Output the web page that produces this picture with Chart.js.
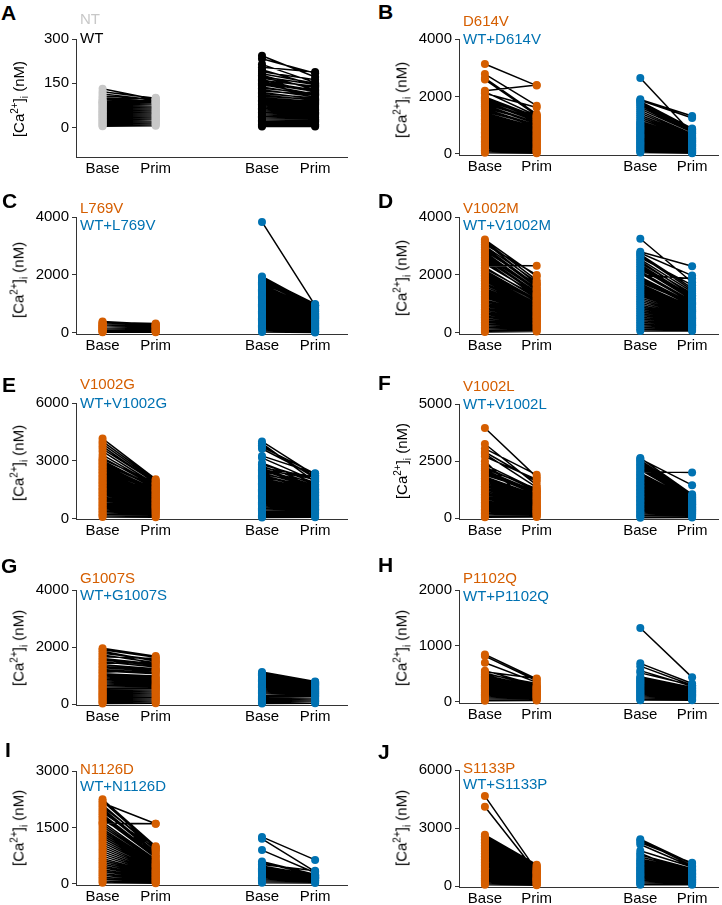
<!DOCTYPE html>
<html><head><meta charset="utf-8">
<script src="https://cdn.jsdelivr.net/npm/chart.js@4.4.0/dist/chart.umd.min.js"></script>
<style>
body{margin:0;background:#fff;width:722px;height:905px;position:relative;overflow:hidden;font-family:"Liberation Sans",Arial,sans-serif;}
canvas.c{position:absolute;}
.letter{position:absolute;font-weight:bold;font-size:21px;line-height:1;color:#000;}
.lg{position:absolute;font-size:15px;line-height:1;white-space:nowrap;}
.yt{position:absolute;font-size:15px;white-space:nowrap;transform:translate(-50%,-50%) rotate(-90deg);line-height:1;color:#000;}
.yt sup,.yt sub{font-size:10px;line-height:0;}
</style></head><body>
<script>
// ---------- data (nM) ----------
const xLabels = ['Base','Prim','Base','Prim'];

const aNtBase = [131,121,114,107,101,96,90,88,86,83,80,77,74,71,68,64,61,58,55,52,49,45,42,39,36,33,29,26,23,20,17,13,10,7,4];
const aNtPrim = [95,99,93,96,89,101,94,87,85,86,82,79,76,73,70,66,63,60,57,54,51,47,44,41,38,35,31,28,25,22,19,15,12,9,6];
const aWtBase = [243,233,214,204,196,189,182,177,172,168,163,159,155,150,146,142,137,133,128,124,119,115,110,106,101,97,92,88,83,79,74,70,65,61,56,52,47,43,38,34,29,25,20,16,11,7,3];
const aWtPrim = [171,184,152,188,143,162,150,129,146,136,119,140,126,122,113,131,109,116,104,111,97,100,92,95,88,85,81,78,74,70,67,63,59,56,52,48,44,40,36,32,28,24,20,16,11,7,3];

const bMutBase = [3130,2780,2640,2590,2200,2160,2110,1980,1950,1910,1870,1830,1790,1740,1700,1660,1610,1570,1520,1480,1430,1390,1340,1300,1250,1210,1160,1120,1070,1030,980,940,890,850,800,760,710,670,620,580,530,490,440,400,350,310,260,220,170,130,80,40];
const bMutPrim = [2380,1680,1390,1340,2400,1330,1620,1300,1260,1220,1280,1180,1140,1200,1090,1050,1110,1000,960,1010,920,890,860,830,800,770,740,710,680,650,620,590,560,530,500,470,440,410,380,350,320,290,260,230,200,175,150,125,100,75,50,25];
const bWtBase = [2640,1900,1870,1830,1790,1740,1690,1630,1560,1490,1420,1350,1280,1210,1140,1090,1050,1010,970,930,890,850,810,770,730,690,650,610,570,530,490,450,410,370,330,290,250,210,170,130,90,50];
const bWtPrim = [720,1320,1250,890,860,840,820,790,760,700,670,640,610,580,550,520,500,480,460,440,420,400,380,360,340,320,300,280,260,240,220,200,180,160,140,120,100,85,70,55,40,25];

const cMutBase = [400,370,340,310,290,265,245,225,205,185,165,145,125,105,85,65,45,25];
const cMutPrim = [300,330,260,290,250,235,220,205,185,170,150,132,115,97,78,60,42,24];
const cWtBase = [3830,1950,1910,1870,1830,1790,1750,1710,1670,1630,1590,1550,1510,1470,1430,1390,1350,1310,1270,1230,1190,1150,1110,1070,1030,990,950,910,870,830,790,750,710,670,630,590,550,510,470,430,390,350,310,270,230,190,150,110,70,30];
const cWtPrim = [950,960,1000,930,970,900,870,940,840,810,790,770,750,730,700,680,660,640,620,600,580,560,540,520,500,480,460,440,420,400,380,360,340,320,300,280,260,240,220,200,180,160,140,120,100,80,60,45,30,15];

const dMutBase = [3220,3170,3120,3060,3000,2950,2890,2830,2780,2720,2660,2610,2550,2500,2440,2380,2330,2270,2220,2160,2100,2050,1990,1940,1880,1820,1770,1710,1660,1600,1540,1490,1430,1380,1320,1260,1210,1150,1100,1040,980,930,870,820,760,700,650,590,540,480,420,370,310,250,190,140,80,30];
const dMutPrim = [1950,1820,1700,2000,1760,1640,1580,1680,1520,1460,1490,1400,1360,1240,1300,1340,2320,1200,1260,1150,1120,1080,1100,1030,990,1010,950,920,890,860,830,800,780,750,720,690,660,640,610,580,550,530,500,470,440,420,390,360,340,310,280,250,220,190,160,130,90,50];
const dWtBase = [3250,2800,2760,2710,2660,2600,2540,2480,2420,2360,2300,2240,2180,2120,2060,1990,1930,1870,1810,1750,1690,1630,1570,1510,1450,1390,1330,1270,1210,1150,1090,1030,970,910,850,790,730,670,610,550,490,430,370,310,250,190,130,70];
const dWtPrim = [1750,2300,1980,1550,1480,1650,1420,1300,1360,1250,1200,1150,1280,1100,1060,1880,1020,980,940,1000,900,870,840,810,780,750,720,690,660,630,600,570,540,510,480,450,420,390,360,330,300,270,240,210,180,150,110,70];

const eMutBase = [4150,4000,3880,3750,3620,3480,3300,3160,3080,3000,2930,2850,2780,2700,2620,2550,2470,2400,2320,2250,2170,2100,2020,1950,1870,1800,1720,1650,1570,1500,1420,1350,1270,1200,1120,1050,970,900,820,750,670,600,520,450,370,300,220,150,70];
const eMutPrim = [2040,1980,1900,1820,1860,1750,1700,1660,1800,1600,1560,1620,1500,1460,1420,1380,1440,1340,1300,1260,1220,1180,1150,1110,1080,1040,1000,970,930,900,860,830,790,760,720,690,650,620,580,550,510,470,420,370,320,260,200,130,60];
const eWtBase = [4000,3900,3800,3720,3620,3250,3150,2880,2800,2720,2640,2580,2540,2490,2430,2370,2310,2250,2190,2130,2070,2010,1950,1890,1830,1770,1700,1640,1580,1520,1460,1400,1340,1270,1210,1150,1090,1030,960,900,840,780,720,650,590,530,470,410,350,290,230,170,110,50];
const eWtPrim = [2250,1900,2100,2320,2200,2350,1950,1850,2000,1780,2150,1700,2050,1650,1900,1600,1750,1560,1520,1680,1480,1440,1400,1360,1320,1280,1240,1200,1160,1120,1080,1040,1000,960,920,880,840,800,760,720,680,640,600,560,520,480,440,400,350,300,250,190,130,60];

const fMutBase = [3950,3250,3050,2900,2820,2700,2500,2350,2250,2170,2100,2030,1960,1890,1820,1750,1680,1610,1540,1470,1400,1330,1260,1190,1120,1050,980,910,840,770,700,640,580,520,460,400,340,280,220,160,100,50];
const fMutPrim = [1800,1450,1900,1600,1350,1700,300,1250,1200,1300,1150,1100,1050,1180,1000,960,920,880,840,800,760,720,680,640,600,560,530,500,470,440,410,380,350,320,290,260,230,200,170,140,100,60];
const fWtBase = [2640,2600,2540,2480,2420,2360,2300,2240,2180,2120,2050,1990,1930,1870,1810,1750,1690,1630,1570,1510,1450,1390,1330,1270,1210,1150,1090,1030,970,910,850,790,730,670,610,550,490,430,370,310,250,190,130,80,30];
const fWtPrim = [1050,1450,1000,980,950,920,900,870,850,820,2000,800,780,760,740,720,700,680,660,640,620,600,580,560,540,520,500,480,460,440,420,400,380,360,340,320,300,280,250,220,190,160,120,80,40];

const gMutBase = [1960,1900,1850,1780,1720,1660,1600,1540,1480,1430,1380,1320,1270,1210,1160,1110,1060,1010,960,910,860,820,780,740,700,660,620,580,540,500,460,420,380,340,300,260,220,180,140,100,60,20];
const gMutPrim = [1680,1640,1500,1560,1450,1600,1400,1350,1300,1480,1240,1200,1150,1100,1060,1180,980,940,900,860,820,780,740,700,670,640,610,580,550,520,480,440,400,360,320,280,240,200,160,120,80,30];
const gWtBase = [1120,1080,1040,1010,980,950,920,890,860,830,800,770,740,710,680,650,620,590,560,530,500,470,440,410,380,350,320,290,260,230,200,170,140,110,80,50,20];
const gWtPrim = [790,770,740,760,720,700,710,690,670,650,630,610,590,570,550,530,510,490,470,450,430,410,390,370,350,330,310,290,270,250,220,190,160,130,100,70,30];

const hMutBase = [850,820,700,560,540,520,500,480,460,440,420,400,380,360,340,320,300,280,260,240,220,200,180,160,140,120,100,80,60,40,20];
const hMutPrim = [410,380,350,300,420,280,330,270,260,250,240,230,220,210,200,190,180,170,160,150,140,130,120,110,100,90,80,70,55,40,25];
const hWtBase = [1320,690,640,560,520,450,430,410,390,370,350,330,310,290,270,250,230,210,190,170,150,130,110,90,70,50,30];
const hWtPrim = [440,330,300,280,300,260,250,240,230,220,210,200,190,180,170,160,150,140,130,120,110,100,90,75,60,45,30];

const iMutBase = [2250,2200,2150,2100,2050,2000,1950,1900,1850,1800,1750,1700,1640,1620,1580,1520,1460,1400,1340,1280,1220,1160,1100,1040,980,920,860,800,740,680,630,580,530,480,430,380,330,280,230,180,130,80,30];
const iMutPrim = [1000,950,1600,900,980,850,800,940,760,720,700,880,650,1600,620,600,560,540,520,500,470,450,430,400,380,360,340,320,300,280,260,240,220,200,180,160,140,120,100,80,60,40,20];
const iWtBase = [1250,1200,900,600,560,520,480,450,420,390,360,330,300,270,240,210,180,150,120,90,60,30];
const iWtPrim = [640,330,300,250,240,350,230,220,210,200,190,180,170,160,150,140,130,115,100,80,50,25];

const jMutBase = [4650,4100,2650,2580,2500,2420,2340,2260,2180,2100,2020,1940,1860,1780,1700,1620,1540,1460,1380,1300,1220,1140,1060,980,900,830,760,690,620,550,480,420,360,300,240,180,120,60];
const jMutPrim = [800,700,1100,1050,1000,960,920,880,840,800,770,740,710,680,650,620,590,560,530,500,470,440,420,400,380,360,340,320,300,280,260,230,200,170,140,110,80,40];
const jWtBase = [2420,2360,2250,2150,1820,1700,1600,1500,1400,1320,1250,1180,1110,1040,970,900,840,780,720,660,600,540,480,420,360,300,240,180,120,60];
const jWtPrim = [1150,1050,1200,1000,980,600,900,860,820,780,740,700,660,620,580,540,500,470,440,410,380,350,320,290,260,230,200,160,110,60];

// ---------- styling / layout ----------
const ORANGE = '#D55E00', BLUE = '#0072B2', GREY = '#c8c8c8', AXIS = '#333';
const FONT = {family:'"Liberation Sans", Arial, sans-serif', size:15};
Chart.defaults.font.family = FONT.family;

function mg(name, base, prim){ return {name, color:ORANGE, base, prim}; }
function wg(name, base, prim){ return {name, color:BLUE, base, prim}; }

const panels = [
 {key:'A', colX:0, axisX:76, top:39, bottom:157, min:-100, max:300, ticks:[0,150,300], letter:[1,2], lg:[13,32], ty:99,
  groups:[{name:'NT',color:GREY,base:aNtBase,prim:aNtPrim},{name:'WT',color:'#000',base:aWtBase,prim:aWtPrim}]},
 {key:'B', colX:361, axisX:459, top:39, bottom:155, min:-35, max:4000, ticks:[0,2000,4000], letter:[378,1], lg:[15,33], ty:100,
  groups:[mg('D614V',bMutBase,bMutPrim), wg('WT+D614V',bWtBase,bWtPrim)]},
 {key:'C', colX:0, axisX:76, top:217, bottom:334, min:-35, max:4000, ticks:[0,2000,4000], letter:[2,190], lg:[202,219], ty:280,
  groups:[mg('L769V',cMutBase,cMutPrim), wg('WT+L769V',cWtBase,cWtPrim)]},
 {key:'D', colX:361, axisX:459, top:217, bottom:334, min:-35, max:4000, ticks:[0,2000,4000], letter:[378,190], lg:[202,219], ty:278,
  groups:[mg('V1002M',dMutBase,dMutPrim), wg('WT+V1002M',dWtBase,dWtPrim)]},
 {key:'E', colX:0, axisX:76, top:403, bottom:519, min:-30, max:6000, ticks:[0,3000,6000], letter:[2,374], lg:[378,397], ty:463,
  groups:[mg('V1002G',eMutBase,eMutPrim), wg('WT+V1002G',eWtBase,eWtPrim)]},
 {key:'F', colX:361, axisX:459, top:404, bottom:519, min:-30, max:5000, ticks:[0,2500,5000], letter:[378,372], lg:[380,398], ty:461,
  groups:[mg('V1002L',fMutBase,fMutPrim), wg('WT+V1002L',fWtBase,fWtPrim)]},
 {key:'G', colX:0, axisX:76, top:590, bottom:705, min:-35, max:4000, ticks:[0,2000,4000], letter:[1,555], lg:[572,589], ty:648,
  groups:[mg('G1007S',gMutBase,gMutPrim), wg('WT+G1007S',gWtBase,gWtPrim)]},
 {key:'H', colX:361, axisX:459, top:590, bottom:703, min:-18, max:2000, ticks:[0,1000,2000], letter:[378,554], lg:[572,590], ty:648,
  groups:[mg('P1102Q',hMutBase,hMutPrim), wg('WT+P1102Q',hWtBase,hWtPrim)]},
 {key:'I', colX:0, axisX:76, top:771, bottom:885, min:-27, max:3000, ticks:[0,1500,3000], letter:[5,739], lg:[763,780], ty:828,
  groups:[mg('N1126D',iMutBase,iMutPrim), wg('WT+N1126D',iWtBase,iWtPrim)]},
 {key:'J', colX:361, axisX:459, top:770, bottom:887, min:-50, max:6000, ticks:[0,3000,6000], letter:[378,741], lg:[762,778], ty:828,
  groups:[mg('S1133P',jMutBase,jMutPrim), wg('WT+S1133P',jWtBase,jWtPrim)]},
];

function pairs(base, prim, x0){
  const out = [];
  const n = Math.min(base.length, prim.length);
  for (let i = 0; i < n; i++){
    out.push({x:x0, y:base[i]}, {x:x0+1, y:prim[i]}, {x:x0+0.5, y:null});
  }
  return out;
}

function addDiv(cls, html, left, top, color){
  const d = document.createElement('div');
  d.className = cls; d.innerHTML = html;
  d.style.left = left + 'px'; d.style.top = top + 'px';
  if (color) d.style.color = color;
  document.body.appendChild(d);
  return d;
}

const PADTOP = 14, XH = 24;
panels.forEach(p => {
  const cv = document.createElement('canvas');
  cv.className = 'c';
  const h = p.bottom - p.top + PADTOP + XH;
  cv.width = 361; cv.height = h;
  cv.style.left = p.colX + 'px';
  cv.style.top = (p.top - PADTOP) + 'px';
  document.body.appendChild(cv);
  const right = p.colX ? 0 : 14;
  const xmax = p.colX ? 5.5 : 5.6;
  const datasets = p.groups.map((g, gi) => ({
    data: pairs(g.base, g.prim, gi === 0 ? 1 : 4),
    showLine: true, spanGaps: false, tension: 0,
    borderColor: '#000', borderWidth: 1.5,
    pointRadius: 4, pointHoverRadius: 4, pointBorderWidth: 0,
    pointBackgroundColor: g.color, pointBorderColor: g.color,
    clip: false
  }));
  new Chart(cv, {
    type: 'scatter',
    data: {datasets},
    options: {
      responsive: false, animation: false, events: [],
      layout: {padding: {top: PADTOP, right: right, left: 0, bottom: 0}},
      plugins: {legend: {display: false}, tooltip: {enabled: false}},
      scales: {
        x: {
          type: 'linear', min: 0.5, max: xmax,
          afterBuildTicks: s => { s.ticks = [1,2,4,5].map(v => ({value: v})); },
          ticks: {callback: (v, i) => xLabels[i], font: FONT, color: '#000', padding: 3, maxRotation: 0, autoSkip: false},
          grid: {display: false, drawTicks: false, tickLength: 0},
          border: {display: true, color: AXIS, width: 1},
          afterFit: s => { s.height = XH; }
        },
        y: {
          type: 'linear', min: p.min, max: p.max,
          afterBuildTicks: s => { s.ticks = p.ticks.map(v => ({value: v})); },
          ticks: {font: FONT, color: '#000', padding: 3, callback: v => String(v)},
          grid: {display: true, drawOnChartArea: false, drawTicks: true, tickLength: 4, color: AXIS},
          border: {display: true, color: AXIS, width: 1},
          afterFit: s => { s.width = p.axisX - p.colX; }
        }
      }
    }
  });
  addDiv('letter', p.key, p.letter[0], p.letter[1]);
  const lx = p.colX ? 463 : 80;
  addDiv('lg', p.groups[0].name, lx, p.lg[0] - 2, p.groups[0].color);
  addDiv('lg', p.groups[1].name, lx, p.lg[1] - 2, p.groups[1].color);
  addDiv('yt', '[Ca<sup>2+</sup>]<sub>i</sub> (nM)', p.axisX - 58, p.ty);
});
</script>
</body></html>
